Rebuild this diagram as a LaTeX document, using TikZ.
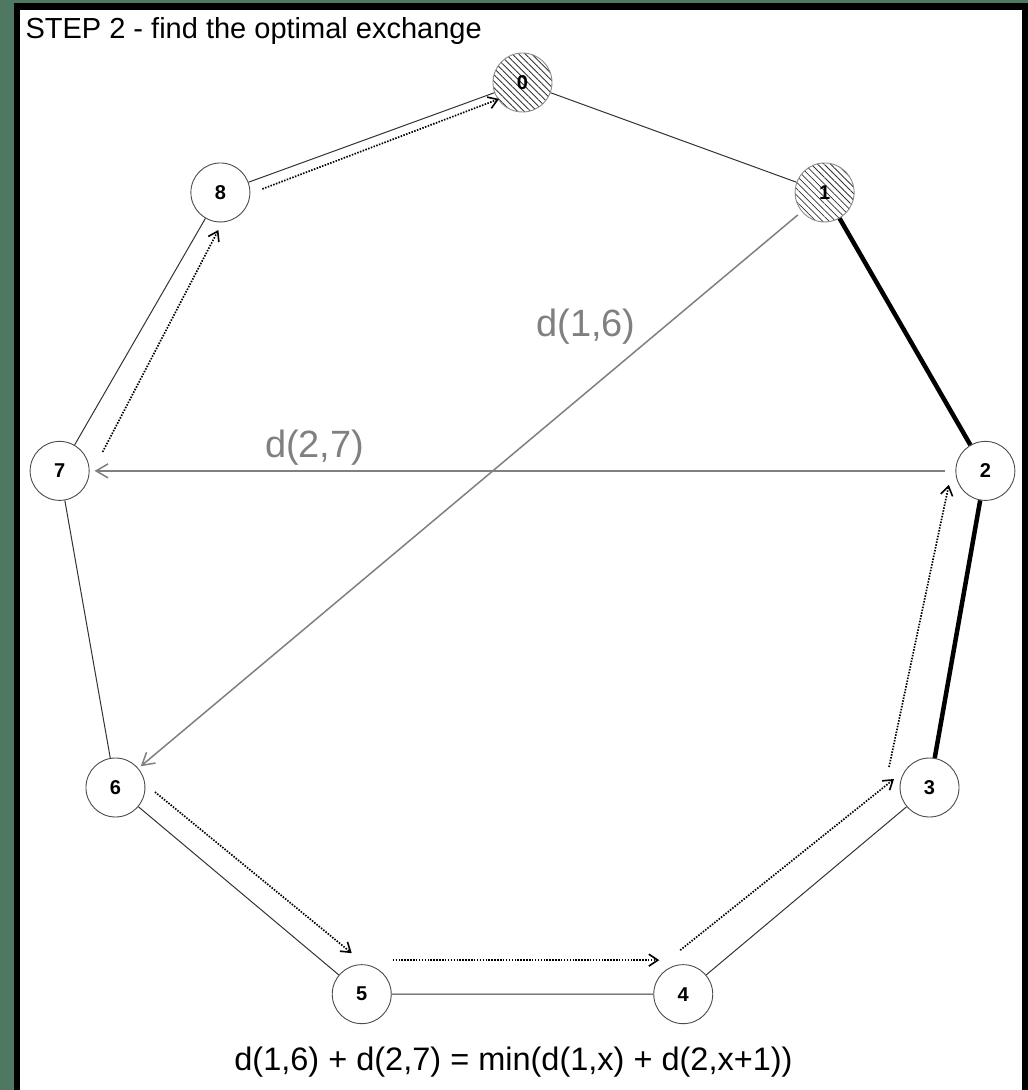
\documentclass[tikz,border=0pt]{standalone}
\usepackage{fontspec}
\setmainfont{Liberation Sans}
\usepackage{tikz}
\usetikzlibrary{arrows.meta,calc,patterns.meta}
\definecolor{board}{HTML}{4E7862}
\definecolor{note}{HTML}{808080}

\begin{document}
\begin{tikzpicture}[x=1pt,y=1pt,
  vert/.style={circle,draw=black!70,line width=0.9pt,fill=white,minimum size=59pt,inner sep=0pt,font=\fontsize{20}{20}\selectfont\bfseries},
  done/.style={vert,draw=black!45,pattern={Lines[angle=-45,distance=4.6pt,line width=0.8pt]},pattern color=black!80},
  edge/.style={black!80,line width=1pt},
  fixed/.style={edge,black,line width=4.5pt},
  swap/.style={note,line width=1.5pt,-{Straight Barb[length=12pt,width=14pt]}},
  flow/.style={line width=1.7pt,dash pattern=on 1.5pt off 1.4pt,-{Straight Barb[length=9pt,width=12pt,line width=1.6pt]}},
  lbl/.style={note,font=\fontsize{38}{38}\selectfont}]
% frame
\fill[board] (-522.5,-537.5) rectangle (505.5,552.5);
\fill[black] (-508.2,-537.5) rectangle (505.5,549.2);
\fill[white] (-502.5,-537.5) rectangle (499.2,542.5);
% tour
\foreach \i/\s in {0/done,1/done,2/vert,3/vert,4/vert,5/vert,6/vert,7/vert,8/vert}
  \node[\s] (n\i) at ({90-40*\i}:470) {\i};
\draw[edge] (n0)--(n1); \draw[fixed] (n1)--(n2) (n2)--(n3);
\draw[edge] (n3)--(n4) (n4)--(n5) (n5)--(n6) (n6)--(n7) (n7)--(n8) (n8)--(n0);
% exchange
\draw[swap,shorten <=5pt,shorten >=3pt] (n1)--(n6);
\draw[swap,shorten <=10pt,shorten >=5pt] (n2)-- node[lbl,pos=.74,above=5pt,inner sep=0pt] (l27) {d(2,7)} (n7);
\node[lbl] (l16) at (63.5,225.5) {d(1,6)};
% reversed part
\draw[flow] ($(n7)+(43,19)$) -- ($(n8)+(-2,-37.5)$);
\draw[flow] ($(n8)+(42,3.5)$) -- ($(n0)+(-23.5,-16.5)$);
\draw[flow] ($(n6)+(39.5,-4.5)$) -- ($(n5)+(-10,41)$);
\draw[flow] ($(n5)+(31,34)$) -- ($(n4)+(-24,34)$);
\draw[flow] ($(n4)+(-3,44)$) -- ($(n3)+(-35.5,8.5)$);
\draw[flow] ($(n3)+(-40.5,20.5)$) -- ($(n2)+(-36.5,-14)$);
% texts
\node[anchor=base west,font=\fontsize{29}{29}\selectfont] (title) at (-500.5,514) {STEP 2 - find the optimal exchange};
\node[font=\fontsize{32.5}{32.5}\selectfont] (rule) at (-9,-509.5) {d(1,6) + d(2,7) = min(d(1,x) + d(2,x+1))};
\end{tikzpicture}
\end{document}
